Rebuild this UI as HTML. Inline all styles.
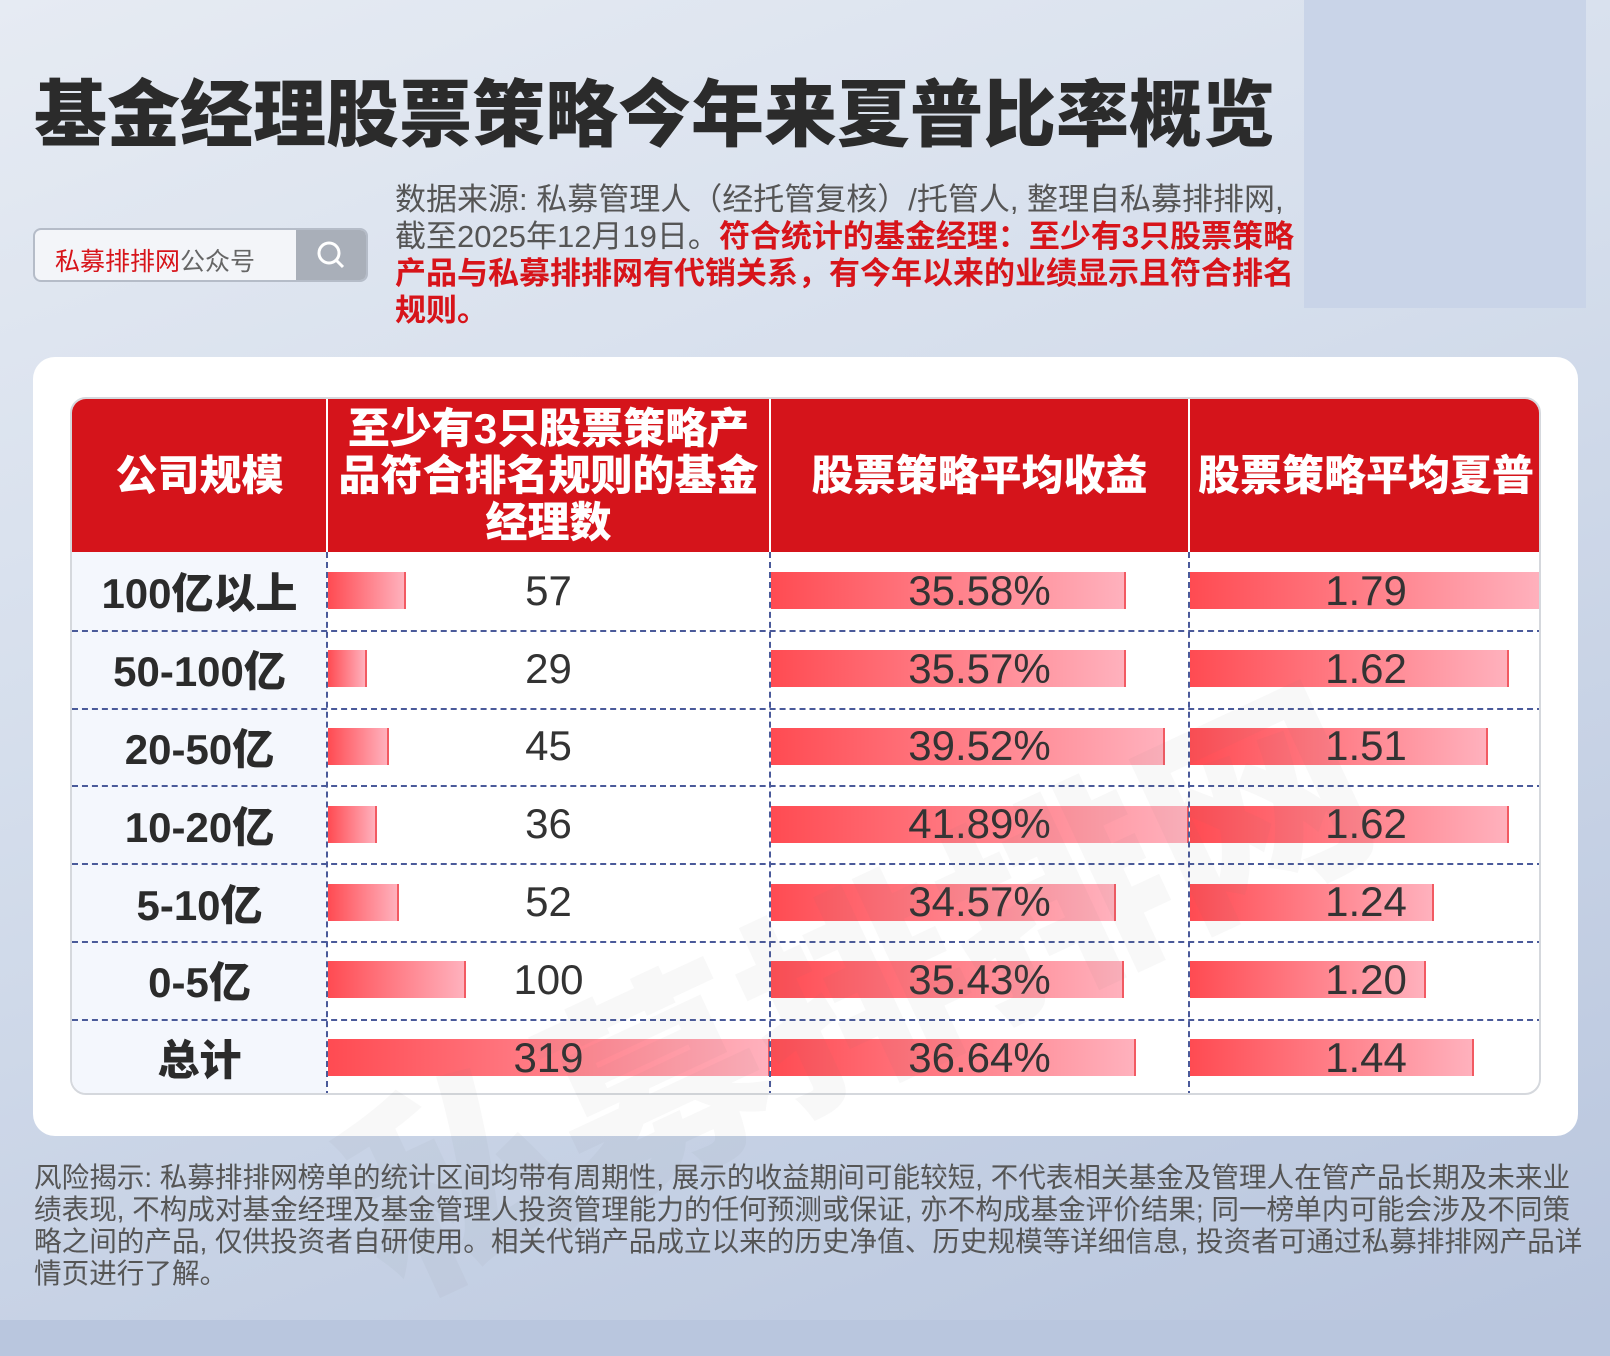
<!DOCTYPE html>
<html style="background:#b9c6de"><head><meta charset="utf-8">
<style>
*{margin:0;padding:0;box-sizing:border-box}
body{width:1610px;height:1320px;overflow:hidden;font-family:"Liberation Sans","Noto Sans CJK SC",sans-serif;background:linear-gradient(160deg,#e6ebf3 0%,#d5deec 40%,#b9c6de 100%);position:relative}
.abs{position:absolute}
#title{left:34px;top:56px;font-size:73px;font-weight:900;color:#2b2b2b;white-space:nowrap}
#rbox{left:1304px;top:0;width:282px;height:308px;background:#c9d4e8}
#search{left:33px;top:228px;width:335px;height:54px;border:2px solid #b5bcc8;border-radius:8px;background:#f3f5f9;overflow:hidden}
#search .t{position:absolute;left:20px;top:12px;font-size:25px;color:#666}
#search .t b{color:#d7141a;font-weight:normal}
#search .btn{position:absolute;left:261px;top:0;width:72px;height:50px;background:#a9afb9}
#src{left:395px;top:181px;width:950px;font-size:31px;line-height:37px;color:#555;white-space:nowrap}
#src b{color:#d7141a}
#card{left:33px;top:357px;width:1545px;height:779px;background:#fff;border-radius:22px}
#table{left:70px;top:397px;width:1471px;height:698px;border-radius:16px;border:2px solid #d5d8dd;overflow:hidden;background:#fff}
.hd{position:absolute;top:0;height:153px;background:#d5141b;color:#fff;font-weight:900;font-size:42px;display:flex;align-items:center;justify-content:center;text-align:center;line-height:47px;white-space:nowrap}
.cell{position:absolute;display:flex;align-items:center;justify-content:center;font-size:42px;color:#333}
.c1{background:#f4f7fd;font-weight:900;color:#2b2b2b}
.bar{position:absolute;height:37px;background:linear-gradient(90deg,#ff4b52,#ffb1bd);border-right:2px solid #f25a62}
.vl{position:absolute;top:153px;width:0;border-left:2px dashed #4a5a9a}
.hl{position:absolute;left:0;width:1471px;height:0;border-top:2px dashed #4a5a9a}
.hv{position:absolute;top:0;height:153px;width:2px;background:#fff}
#wm{left:300px;top:820px;font-size:220px;font-weight:900;color:rgba(120,120,120,0.05);transform:rotate(-25deg);white-space:nowrap}
#foot{left:34px;top:1162px;width:1545px;font-size:27.6px;line-height:32px;color:#555;white-space:nowrap}
</style></head><body>
<div id="rbox" class="abs"></div>
<div id="title" class="abs">基金经理股票策略今年来夏普比率概览</div>
<div id="search" class="abs"><span class="t"><b>私募排排网</b>公众号</span><div class="btn"><svg width="72" height="50"><circle cx="33" cy="23" r="10" fill="none" stroke="#fff" stroke-width="3"/><line x1="40" y1="30" x2="47" y2="37" stroke="#fff" stroke-width="3"/></svg></div></div>
<div id="src" class="abs">数据来源: 私募管理人（经托管复核）/托管人, 整理自私募排排网,<br>截至2025年12月19日。<b>符合统计的基金经理：至少有3只股票策略<br>产品与私募排排网有代销关系，有今年以来的业绩显示且符合排名<br>规则。</b></div>
<div id="card" class="abs"></div>
<div id="table" class="abs"></div>
<div id="wm" class="abs">私募排排网</div>
<div id="foot" class="abs">风险揭示: 私募排排网榜单的统计区间均带有周期性, 展示的收益期间可能较短, 不代表相关基金及管理人在管产品长期及未来业<br>绩表现, 不构成对基金经理及基金管理人投资管理能力的任何预测或保证, 亦不构成基金评价结果; 同一榜单内可能会涉及不同策<br>略之间的产品, 仅供投资者自研使用。相关代销产品成立以来的历史净值、历史规模等详细信息, 投资者可通过私募排排网产品详<br>情页进行了解。</div>
<script>
const categories=["100亿以上","50-100亿","20-50亿","10-20亿","5-10亿","0-5亿","总计"];
const managerCounts=[57,29,45,36,52,100,319];
const avgReturns=[35.58,35.57,39.52,41.89,34.57,35.43,36.64];
const avgSharpe=[1.79,1.62,1.51,1.62,1.24,1.20,1.44];
const headers=["公司规模","至少有3只股票策略产<br>品符合排名规则的基金<br>经理数","股票策略平均收益","股票策略平均夏普"];
const T=document.getElementById('table');
const colX=[0,255,698,1117,1471];
const headH=153,rowH=77.8,barH=37;
headers.forEach((h,i)=>{const d=document.createElement('div');d.className='hd';


d.style.left=colX[i]+'px';d.style.width=(colX[i+1]-colX[i])+'px';
d.innerHTML=h;T.appendChild(d);
if(i>0){const v=document.createElement('div');v.className='hv';v.style.left=(colX[i]-1)+'px';


T.appendChild(v);}});
const maxC=Math.max(...managerCounts),maxR=Math.max(...avgReturns),maxS=Math.max(...avgSharpe);
function xScale(v,max,col){return v/max*(colX[col+1]-colX[col]);}
categories.forEach((c,r)=>{const y=headH+r*rowH;
const l=document.createElement('div');l.className='cell c1';


l.style.cssText+=`left:0;top:${y}px;width:${colX[1]}px;height:${rowH}px`;l.textContent=c;T.appendChild(l);
const cols=[[managerCounts[r],maxC,1,String(managerCounts[r]),'bar-manager-count'],[avgReturns[r],maxR,2,avgReturns[r].toFixed(2)+'%','bar-avg-return'],[avgSharpe[r],maxS,3,avgSharpe[r].toFixed(2),'bar-avg-sharpe']];
cols.forEach(([v,m,ci,txt,nm])=>{const b=document.createElement('div');b.className='bar';


b.style.left=(colX[ci]+1)+'px';b.style.top=(y+(rowH-barH)/2)+'px';b.style.width=xScale(v,m,ci)-1+'px';T.appendChild(b);
const t=document.createElement('div');t.className='cell';


t.style.cssText+=`left:${colX[ci]}px;top:${y}px;width:${colX[ci+1]-colX[ci]}px;height:${rowH}px`;t.textContent=txt;T.appendChild(t);});
if(r>0){const h=document.createElement('div');h.className='hl';h.style.top=y+'px';


T.appendChild(h);}});
[1,2,3].forEach(i=>{const v=document.createElement('div');v.className='vl';v.style.left=(colX[i]-1)+'px';v.style.height=(rowH*categories.length)+'px';


T.appendChild(v);});
</script>
</body></html>
